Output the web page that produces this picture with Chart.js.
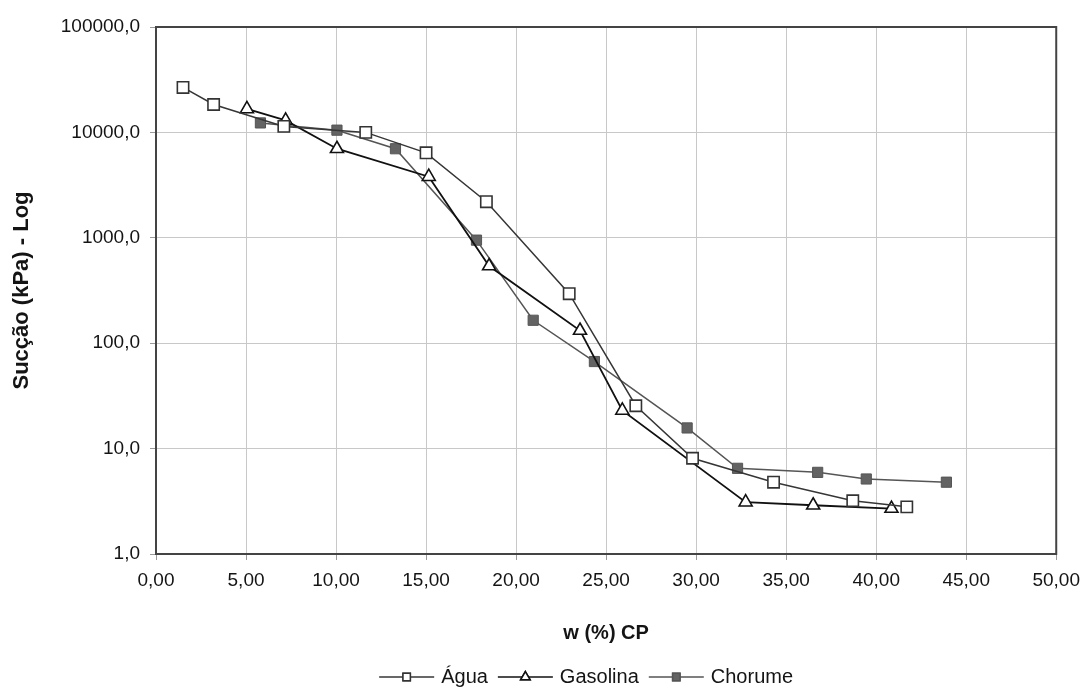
<!DOCTYPE html>
<html>
<head>
<meta charset="utf-8">
<script src="https://cdn.jsdelivr.net/npm/chart.js@4.4.1/dist/chart.umd.min.js"></script>
<style>
  html, body { margin: 0; padding: 0; background: #fff; }
</style>
</head>
<body>
<canvas id="suctionChart" width="1089" height="693"></canvas>
<script>
// w (%) vs suction (kPa)
const aguaW = [1.5, 3.2, 7.1, 11.65, 15.0, 18.35, 22.95, 26.65, 29.8, 34.3, 38.7, 41.7];
const aguaSuc = [26700, 18400, 11400, 10000, 6400, 2200, 295, 25.5, 8.1, 4.8, 3.2, 2.8];

const gasolinaW = [5.05, 7.2, 10.05, 15.15, 18.5, 23.55, 25.9, 32.75, 36.5, 40.85];
const gasolinaSuc = [16700, 13000, 7000, 3800, 540, 132, 23, 3.1, 2.9, 2.7];

const chorumeW = [5.8, 10.05, 13.3, 17.8, 20.95, 24.35, 29.5, 32.3, 36.75, 39.45, 43.9];
const chorumeSuc = [12300, 10500, 7000, 950, 165, 67, 15.7, 6.5, 5.95, 5.15, 4.8];

const seriesNames = ['Água', 'Gasolina', 'Chorume'];
const yTicks = [1, 10, 100, 1000, 10000, 100000];

const FONT = "'Liberation Sans', Arial, sans-serif";
Chart.defaults.font.family = FONT;
Chart.defaults.color = '#141414';

function toPoints(xs, ys) {
    return xs.map((x, i) => ({ x: x, y: ys[i] }));
}

const comma = (v, d) => Number(v).toFixed(d).replace('.', ',');

// box around the plot area (top/right edges)
const frame = {
    id: 'frame',
    beforeDatasetsDraw(chart) {
        const a = chart.chartArea, ctx = chart.ctx;
        ctx.save();
        ctx.strokeStyle = '#444';
        ctx.lineWidth = 2;
        ctx.strokeRect(a.left, a.top, a.right - a.left, a.bottom - a.top);
        ctx.restore();
    }
};

// legend drawn as  —□— Água  —△— Gasolina  —■— Chorume
const lineLegend = {
    id: 'lineLegend',
    afterDraw(chart) {
        const ctx = chart.ctx;
        const a = chart.chartArea;
        const symW = 55, gapText = 7, gapItem = 10, y = 677;
        ctx.save();
        ctx.font = '20px ' + FONT;
        ctx.textBaseline = 'middle';
        const widths = chart.data.datasets.map(ds => ctx.measureText(ds.label).width);
        let total = 0;
        widths.forEach((w, i) => { total += symW + gapText + w + (i < widths.length - 1 ? gapItem : 0); });
        let x = (a.left + a.right) / 2 - 20 - total / 2;
        chart.data.datasets.forEach((ds, i) => {
            ctx.strokeStyle = ds.borderColor;
            ctx.lineWidth = 1.5;
            ctx.beginPath();
            ctx.moveTo(x, y);
            ctx.lineTo(x + symW, y);
            ctx.stroke();
            Chart.helpers.drawPoint(ctx, {
                pointStyle: ds.pointStyle,
                radius: ds.pointStyle === 'triangle' ? 5.5 : 5.2,
                borderWidth: 1.5,
                rotation: 0
            }, x + symW / 2, y);
            ctx.fillStyle = ds.pointBackgroundColor;
            ctx.strokeStyle = ds.pointBorderColor;
            ctx.fill();
            ctx.stroke();
            ctx.fillStyle = '#141414';
            ctx.fillText(ds.label, x + symW + gapText, y);
            x += symW + gapText + widths[i] + gapItem;
        });
        ctx.restore();
    }
};

new Chart(document.getElementById('suctionChart'), {
    type: 'line',
    data: {
        datasets: [
            {
                label: seriesNames[0],
                data: toPoints(aguaW, aguaSuc),
                borderColor: '#363636',
                borderWidth: 1.5,
                pointStyle: 'rect',
                pointRadius: 8,
                pointBackgroundColor: '#ffffff',
                pointBorderColor: '#333333',
                pointBorderWidth: 1.6
            },
            {
                label: seriesNames[1],
                data: toPoints(gasolinaW, gasolinaSuc),
                borderColor: '#111111',
                borderWidth: 1.8,
                pointStyle: 'triangle',
                pointRadius: 7.5,
                pointBackgroundColor: '#ffffff',
                pointBorderColor: '#111111',
                pointBorderWidth: 1.6
            },
            {
                label: seriesNames[2],
                data: toPoints(chorumeW, chorumeSuc),
                borderColor: '#555555',
                borderWidth: 1.5,
                pointStyle: 'rect',
                pointRadius: 7.2,
                pointBackgroundColor: '#636363',
                pointBorderColor: '#555555',
                pointBorderWidth: 1
            }
        ]
    },
    options: {
        responsive: false,
        animation: false,
        devicePixelRatio: 1,
        layout: { padding: { top: 27, right: 32, bottom: 31, left: 0 } },
        elements: { line: { tension: 0, fill: false } },
        plugins: {
            legend: { display: false },
            tooltip: { enabled: false }
        },
        scales: {
            x: {
                type: 'linear',
                min: 0,
                max: 50,
                ticks: {
                    stepSize: 5,
                    padding: 9,
                    font: { size: 19 },
                    callback: v => comma(v, 2)
                },
                grid: { color: '#c8c8c8', tickLength: 6, tickColor: '#9a9a9a' },
                border: { color: '#444', width: 2 },
                title: {
                    display: true,
                    text: 'w (%) CP',
                    font: { size: 20, weight: 'bold' },
                    padding: { top: 10, bottom: 17 }
                },
                afterFit: s => { s.height = 108; }
            },
            y: {
                type: 'logarithmic',
                min: 1,
                max: 100000,
                afterBuildTicks: s => { s.ticks = yTicks.map(v => ({ value: v })); },
                ticks: {
                    padding: 10,
                    font: { size: 19 },
                    callback: v => comma(v, 1)
                },
                grid: { color: '#c8c8c8', tickLength: 6, tickColor: '#9a9a9a' },
                border: { color: '#444', width: 2 },
                title: {
                    display: true,
                    text: 'Sucção (kPa) - Log',
                    font: { size: 22, weight: 'bold' },
                    padding: { top: 9, bottom: 0 }
                },
                afterFit: s => { s.width = 156; }
            }
        }
    },
    plugins: [frame, lineLegend]
});
</script>
</body>
</html>
